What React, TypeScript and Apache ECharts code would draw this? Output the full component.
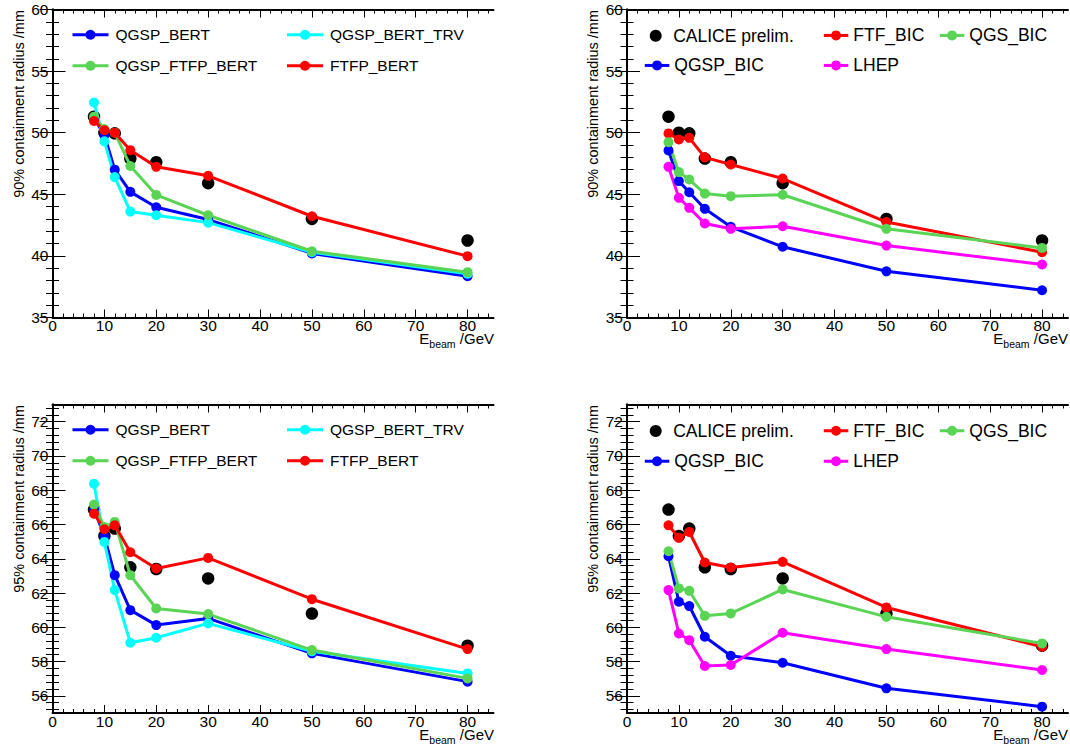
import React, { useEffect, useRef } from 'react';
import * as echarts from 'echarts';

// ---------- data ----------
const energies = [8, 10, 12, 15, 20, 30, 50, 80];

// 90% containment radius
const calice90 = [51.3, 50.0, 49.95, 47.9, 47.6, 45.9, 43.0, 41.25];
const qgspBert90 = [51.2, 49.8, 47.0, 45.2, 43.95, 42.95, 40.2, 38.35];
const qgspBertTrv90 = [52.45, 49.3, 46.4, 43.6, 43.3, 42.7, 40.3, 38.55];
const qgspFtfpBert90 = [51.3, 50.3, 50.0, 47.3, 44.95, 43.3, 40.38, 38.68];
const ftfpBert90 = [50.95, 50.2, 50.0, 48.58, 47.23, 46.5, 43.22, 39.98];
const ftfBic90 = [49.94, 49.45, 49.58, 48.0, 47.42, 46.28, 42.75, 40.3];
const qgsBic90 = [49.23, 46.8, 46.2, 45.06, 44.85, 44.96, 42.2, 40.65];
const qgspBic90 = [48.56, 46.07, 45.17, 43.82, 42.36, 40.74, 38.75, 37.21];
const lhep90 = [47.23, 44.71, 43.9, 42.63, 42.2, 42.41, 40.84, 39.3];

// 95% containment radius
const calice95 = [66.87, 65.33, 65.76, 63.5, 63.4, 62.85, 60.8, 58.93];
const qgspBert95 = [66.9, 65.31, 63.04, 61.0, 60.13, 60.52, 58.48, 56.83];
const qgspBertTrv95 = [68.38, 64.98, 62.17, 59.1, 59.39, 60.23, 58.6, 57.31];
const qgspFtfpBert95 = [67.16, 65.85, 66.15, 63.04, 61.1, 60.77, 58.67, 57.02];
const ftfpBert95 = [66.63, 65.72, 65.95, 64.38, 63.43, 64.05, 61.64, 58.73];
const ftfBic95 = [65.95, 65.22, 65.56, 63.78, 63.49, 63.82, 61.16, 58.87];
const qgsBic95 = [64.44, 62.27, 62.13, 60.67, 60.81, 62.21, 60.61, 59.06];
const qgspBic95 = [64.15, 61.49, 61.24, 59.45, 58.34, 57.93, 56.44, 55.37];
const lhep95 = [62.17, 59.64, 59.25, 57.74, 57.8, 59.68, 58.73, 57.51];

// tick labels
const xTickLabels = [0, 10, 20, 30, 40, 50, 60, 70, 80];
const y90TickLabels = [35, 40, 45, 50, 55, 60];
const y95TickLabels = [56, 58, 60, 62, 64, 66, 68, 70, 72];

const xMinor = Array.from({ length: 43 }, (_, i) => i * 2);
const y90Minor = Array.from({ length: 26 }, (_, i) => 35 + i);
const y95Minor = Array.from({ length: 45 }, (_, i) => Math.round((55.2 + 0.4 * i) * 10) / 10);

const FONT = "'Liberation Sans', Arial, Helvetica, sans-serif";
const BLUE = '#0000ff';
const CYAN = '#00ffff';
const GREEN = '#59d454';
const RED = '#ff0000';
const MAGENTA = '#ff00ff';
const CALICE = 'CALICE prelim.';

const grids = [
  { left: 52.5, top: 9.5, width: 441, height: 308 },
  { left: 627, top: 9.5, width: 441, height: 308 },
  { left: 52.5, top: 404.5, width: 441, height: 308.5 },
  { left: 627, top: 404.5, width: 441, height: 308.5 },
];

function buildXAxes(gi: number) {
  const base = { gridIndex: gi, type: 'value', min: 0, max: 85, splitLine: { show: false } };
  return [
    {
      ...base, position: 'bottom',
      axisLine: { show: true, lineStyle: { color: '#000', width: 2 } },
      axisTick: { show: true, inside: true, length: 8, customValues: xTickLabels, lineStyle: { color: '#000', width: 1 } },
      axisLabel: { show: true, customValues: xTickLabels, margin: 3, color: '#000', fontSize: 15.5, lineHeight: 10, fontFamily: FONT },
    },
    {
      ...base, position: 'bottom',
      axisLine: { show: false },
      axisTick: { show: true, inside: true, length: 4, customValues: xMinor, lineStyle: { color: '#000', width: 1 } },
      axisLabel: { show: false },
    },
    {
      ...base, position: 'top',
      axisLine: { show: true, lineStyle: { color: '#000', width: 2 } },
      axisTick: { show: true, inside: true, length: 8, customValues: xTickLabels, lineStyle: { color: '#000', width: 1 } },
      axisLabel: { show: false },
    },
    {
      ...base, position: 'top',
      axisLine: { show: false },
      axisTick: { show: true, inside: true, length: 4, customValues: xMinor, lineStyle: { color: '#000', width: 1 } },
      axisLabel: { show: false },
    },
  ];
}

function buildYAxes(gi: number, min: number, max: number, major: number[], minor: number[]) {
  const base = { gridIndex: gi, type: 'value', min, max, splitLine: { show: false } };
  return [
    {
      ...base, position: 'left',
      axisLine: { show: true, lineStyle: { color: '#000', width: 2 } },
      axisTick: { show: true, inside: true, length: 13, customValues: major, lineStyle: { color: '#000', width: 1 } },
      axisLabel: { show: true, customValues: major, margin: 4, color: '#000', fontSize: 15.5, fontFamily: FONT },
    },
    {
      ...base, position: 'left',
      axisLine: { show: false },
      axisTick: { show: true, inside: true, length: 6.5, customValues: minor, lineStyle: { color: '#000', width: 1 } },
      axisLabel: { show: false },
    },
    {
      ...base, position: 'right',
      axisLine: { show: true, lineStyle: { color: '#000', width: 2 } },
      axisTick: { show: true, inside: true, length: 13, customValues: major, lineStyle: { color: '#000', width: 1 } },
      axisLabel: { show: false },
    },
    {
      ...base, position: 'right',
      axisLine: { show: false },
      axisTick: { show: true, inside: true, length: 6.5, customValues: minor, lineStyle: { color: '#000', width: 1 } },
      axisLabel: { show: false },
    },
  ];
}

function pts(values: number[]) {
  return energies.map((e, i) => [e, values[i]]);
}

function lineSeries(name: string, color: string, values: number[], panel: number) {
  return {
    type: 'line', name, xAxisIndex: panel * 4, yAxisIndex: panel * 4,
    data: pts(values), symbol: 'circle', symbolSize: 10, showSymbol: true,
    lineStyle: { color, width: 3, opacity: 1 }, itemStyle: { color, opacity: 1 },
  };
}

function caliceSeries(values: number[], panel: number) {
  return {
    type: 'scatter', name: CALICE, xAxisIndex: panel * 4, yAxisIndex: panel * 4,
    data: pts(values), symbol: 'circle', symbolSize: 12.5, itemStyle: { color: '#000', opacity: 1 },
  };
}

function legendItem(name: string, left: number, centerY: number, kind: 'left' | 'right' | 'dot') {
  if (kind === 'dot') {
    return {
      data: [{ name, icon: 'circle' }], left, top: centerY - 6, padding: 0, orient: 'horizontal',
      itemWidth: 12, itemHeight: 12, selectedMode: false,
      itemStyle: { color: '#000', opacity: 1 },
      textStyle: { color: '#000', fontSize: 17.5, fontFamily: FONT, lineHeight: 12, padding: [0, 0, 0, 6.5] },
    };
  }
  const isLeft = kind === 'left';
  return {
    data: [name], left, top: centerY - 6.25, padding: 0, orient: 'horizontal',
    itemWidth: isLeft ? 36 : 24.5, itemHeight: 12.5, selectedMode: false,
    lineStyle: { width: 3 },
    textStyle: { color: '#000', fontSize: isLeft ? 15.5 : 17.5, fontFamily: FONT, lineHeight: 12.5, padding: isLeft ? [0, 0, 0, 2] : [0, 0, 0, 0] },
  };
}

function yTitle(text: string, x: number, y: number) {
  return {
    type: 'text', x, y, rotation: Math.PI / 2,
    style: { text, fill: '#000', fontSize: 14.5, fontFamily: FONT, align: 'right', verticalAlign: 'middle' },
  };
}

// x-axis title "E_beam /GeV": right edge R, cap-centre line Y
function xTitle(R: number, Y: number) {
  const main = { fill: '#000', fontSize: 15, fontFamily: FONT, verticalAlign: 'middle', lineHeight: 10 };
  return {
    type: 'group',
    children: [
      { type: 'text', x: R - 64.7, y: Y, style: { ...main, text: 'E', align: 'right' } },
      { type: 'text', x: R - 38.4, y: Y + 5.5, style: { fill: '#000', fontSize: 10.5, fontFamily: FONT, verticalAlign: 'middle', lineHeight: 8, text: 'beam', align: 'right' } },
      { type: 'text', x: R, y: Y, style: { ...main, text: '/GeV', align: 'right' } },
    ],
  };
}

export default function App() {
  const ref = useRef<HTMLDivElement>(null);
  useEffect(() => {
    if (!ref.current) return;
    const chart = echarts.init(ref.current, null, { renderer: 'svg' });
    const option: any = {
      animation: false,
      backgroundColor: '#fff',
      grid: grids,
      xAxis: [0, 1, 2, 3].flatMap((g) => buildXAxes(g)),
      yAxis: [
        ...buildYAxes(0, 35, 60, y90TickLabels, y90Minor),
        ...buildYAxes(1, 35, 60, y90TickLabels, y90Minor),
        ...buildYAxes(2, 55, 73, y95TickLabels, y95Minor),
        ...buildYAxes(3, 55, 73, y95TickLabels, y95Minor),
      ],
      legend: [
        legendItem('QGSP_BERT', 71, 33, 'left'),
        legendItem('QGSP_BERT_TRV', 285.5, 33, 'left'),
        legendItem('QGSP_FTFP_BERT', 71, 64, 'left'),
        legendItem('FTFP_BERT', 285.5, 64, 'left'),
        legendItem('QGSP_BERT', 71, 428, 'left'),
        legendItem('QGSP_BERT_TRV', 285.5, 428, 'left'),
        legendItem('QGSP_FTFP_BERT', 71, 459, 'left'),
        legendItem('FTFP_BERT', 285.5, 459, 'left'),
        legendItem(CALICE, 649.7, 32.7, 'dot'),
        legendItem('FTF_BIC', 822.3, 32.7, 'right'),
        legendItem('QGS_BIC', 938.3, 32.7, 'right'),
        legendItem('QGSP_BIC', 643.3, 62.7, 'right'),
        legendItem('LHEP', 822.3, 62.7, 'right'),
        legendItem(CALICE, 649.7, 428, 'dot'),
        legendItem('FTF_BIC', 822.3, 428, 'right'),
        legendItem('QGS_BIC', 938.3, 428, 'right'),
        legendItem('QGSP_BIC', 643.3, 458.5, 'right'),
        legendItem('LHEP', 822.3, 458.5, 'right'),
      ],
      series: [
        caliceSeries(calice90, 0),
        lineSeries('QGSP_BERT', BLUE, qgspBert90, 0),
        lineSeries('QGSP_BERT_TRV', CYAN, qgspBertTrv90, 0),
        lineSeries('QGSP_FTFP_BERT', GREEN, qgspFtfpBert90, 0),
        lineSeries('FTFP_BERT', RED, ftfpBert90, 0),

        caliceSeries(calice90, 1),
        lineSeries('QGSP_BIC', BLUE, qgspBic90, 1),
        lineSeries('FTF_BIC', RED, ftfBic90, 1),
        lineSeries('QGS_BIC', GREEN, qgsBic90, 1),
        lineSeries('LHEP', MAGENTA, lhep90, 1),

        caliceSeries(calice95, 2),
        lineSeries('QGSP_BERT', BLUE, qgspBert95, 2),
        lineSeries('QGSP_BERT_TRV', CYAN, qgspBertTrv95, 2),
        lineSeries('QGSP_FTFP_BERT', GREEN, qgspFtfpBert95, 2),
        lineSeries('FTFP_BERT', RED, ftfpBert95, 2),

        caliceSeries(calice95, 3),
        lineSeries('QGSP_BIC', BLUE, qgspBic95, 3),
        lineSeries('FTF_BIC', RED, ftfBic95, 3),
        lineSeries('QGS_BIC', GREEN, qgsBic95, 3),
        lineSeries('LHEP', MAGENTA, lhep95, 3),
      ],
      graphic: [
        yTitle('90% containment radius /mm', 18.5, 10),
        yTitle('90% containment radius /mm', 593, 10),
        yTitle('95% containment radius /mm', 18.5, 405),
        yTitle('95% containment radius /mm', 593, 405),
        xTitle(494, 338.5),
        xTitle(1068, 338.5),
        xTitle(494, 734),
        xTitle(1068, 734),
      ],
    };
    chart.setOption(option);
    return () => chart.dispose();
  }, []);
  return (
    <div
      ref={ref}
      style={{ position: 'absolute', left: 0, top: 0, width: 1070, height: 749, background: '#fff' }}
    />
  );
}
